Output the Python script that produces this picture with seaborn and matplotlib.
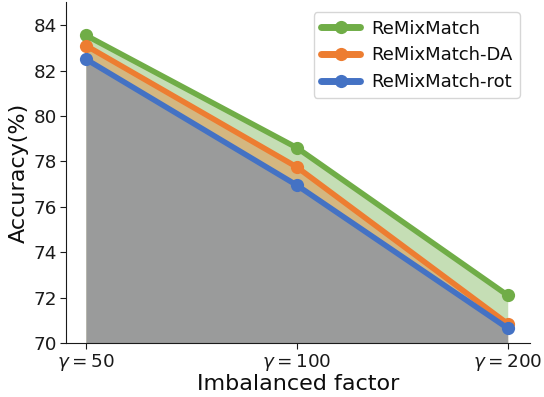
import matplotlib
matplotlib.use("Agg")
import matplotlib.pyplot as plt
import numpy as np
import pandas as pd
import seaborn as sns

# Accuracy per imbalance factor
factors = [r"$\gamma=50$", r"$\gamma=100$", r"$\gamma=200$"]
remixmatch = [83.55, 78.6, 72.1]
remixmatch_da = [83.1, 77.75, 70.85]
remixmatch_rot = [82.5, 76.95, 70.65]

series_names = ["ReMixMatch", "ReMixMatch-DA", "ReMixMatch-rot"]
series_values = [remixmatch, remixmatch_da, remixmatch_rot]
colors = ["#70AD47", "#ED7D31", "#4472C4"]

pos = np.arange(len(factors))
df = pd.DataFrame({
    "pos": np.tile(pos, len(series_names)),
    "acc": np.concatenate(series_values),
    "method": np.repeat(series_names, len(factors)),
})

sns.set_style("ticks", {"axes.edgecolor": ".1", "text.color": ".05",
                        "xtick.color": ".1", "ytick.color": ".1",
                        "axes.labelcolor": ".05"})
plt.rcParams["font.family"] = ["DejaVu Sans"]

fig = plt.figure(figsize=(5.44, 3.97), dpi=100)
ax = fig.add_axes([0.121, 0.136, 0.853, 0.858])

# translucent fills stacked from the top series down
for vals, c in zip(series_values, colors):
    ax.fill_between(pos, vals, 70, color=c, alpha=0.4, linewidth=0)

sns.lineplot(data=df, x="pos", y="acc", hue="method", palette=colors,
             hue_order=series_names, marker="o", markersize=9.5,
             markeredgewidth=0, linewidth=4, ax=ax)

ax.set_xlim(-0.095, 2.105)
ax.set_ylim(70, 85)
ax.set_yticks([70, 72, 74, 76, 78, 80, 82, 84])
ax.set_xticks(pos)
ax.set_xticklabels(factors)
ax.tick_params(axis="both", labelsize=13.2, length=4, pad=2.5)
ax.set_xlabel("Imbalanced factor", fontsize=16, labelpad=1)
ax.set_ylabel("Accuracy(%)", fontsize=16, labelpad=3)
sns.despine(ax=ax)

leg = ax.legend(loc="upper right", fontsize=13, frameon=True,
                handlelength=2.2, borderpad=0.4, labelspacing=0.48,
                handletextpad=0.6, borderaxespad=0.55)
for line in leg.get_lines():
    line.set_linewidth(5)

fig.savefig("out.png", dpi=100)
